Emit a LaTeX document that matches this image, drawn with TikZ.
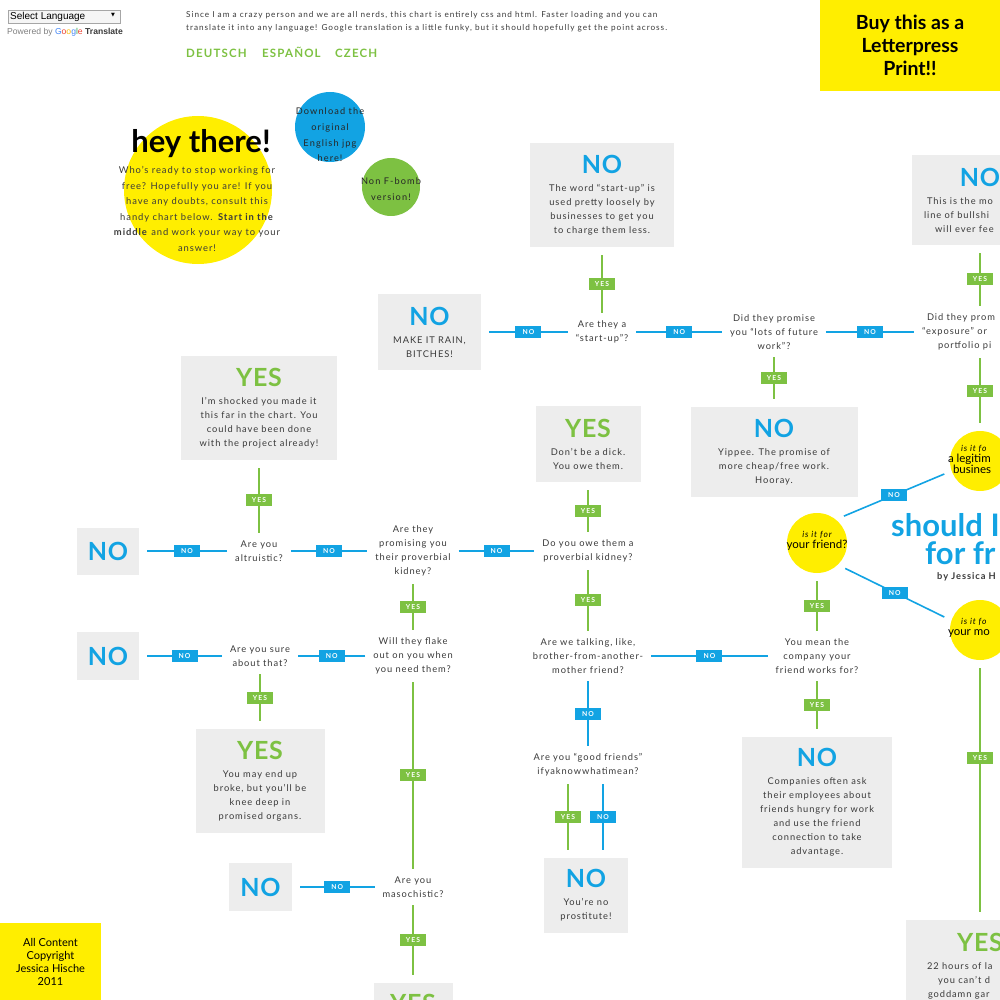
\documentclass[tikz,border=0pt]{standalone}
\usepackage{fontspec}
\setmainfont{Lato}
\newfontfamily\bodyf[LetterSpace=10]{Lato}
\newfontfamily\introf[LetterSpace=12]{Lato}
\newfontfamily\headf[LetterSpace=3]{Lato}
\newfontfamily\labf[LetterSpace=15]{Lato}
\newfontfamily\gfont{Liberation Sans}
\newfontfamily\symf{DejaVu Sans}
\definecolor{flowblue}{HTML}{12A3E3}
\definecolor{flowgreen}{HTML}{7DC142}
\definecolor{hiyellow}{HTML}{FFEE00}
\definecolor{boxgray}{HTML}{EDEDED}
\definecolor{inkgray}{HTML}{3A3A3A}
\definecolor{gblue}{HTML}{4285F4}
\definecolor{gred}{HTML}{EA4335}
\definecolor{gyellow}{HTML}{FBBC05}
\definecolor{ggreen}{HTML}{34A853}
\newcommand\nohead{{\headf\bfseries\fontsize{25}{25}\selectfont\color{flowblue}NO}}
\newcommand\yeshead{{\headf\bfseries\fontsize{25}{25}\selectfont\color{flowgreen}YES}}
% partial lines cut by the page edge
\newcommand\cut[2]{\makebox[#1pt][l]{#2}}

\begin{document}
\begin{tikzpicture}[x=1pt, y=-1pt,
    box/.style={fill=boxgray, align=center, inner sep=0pt, outer sep=8pt, text=inkgray,
                font=\bodyf\fontsize{9.3}{14}\selectfont},
    ques/.style={align=center, inner sep=1pt, outer sep=7pt, text=inkgray,
                 font=\bodyf\fontsize{9.3}{14}\selectfont},
    bubble/.style={circle, fill=hiyellow, inner sep=0pt, outer sep=8pt},
    bubtext/.style={align=center, inner sep=0pt, text=black},
    nolab/.style={fill=flowblue, text=white, font=\labf\bfseries\fontsize{6.8}{7}\selectfont,
                  minimum width=26pt, minimum height=12pt, inner sep=0pt},
    yeslab/.style={nolab, fill=flowgreen},
    noline/.style={flowblue, line width=1.6pt},
    yesline/.style={flowgreen, line width=1.6pt}]

\useasboundingbox (0,0) rectangle (1000,1000);
\clip (0,0) rectangle (1000,1000);

% header
\node[draw=gray!70, fill=gray!8, minimum width=112pt, minimum height=13pt, inner sep=0pt] (langbox) at (64,16.5) {};
\node[anchor=west, inner sep=0pt, font=\gfont\fontsize{10}{10}\selectfont] (langtext) at (10,17) {Select Language};
\node[inner sep=0pt, font=\symf\fontsize{5}{6}\selectfont] (langarrow) at (113,15.5) {▼};
\node[anchor=west, inner sep=0pt, font=\gfont\fontsize{8.6}{9}\selectfont] (powered) at (7,32.5)
  {\textcolor{gray}{Powered by} \textcolor{gblue}{G}\textcolor{gred}{o}\textcolor{gyellow}{o}\textcolor{gblue}{g}\textcolor{ggreen}{l}\textcolor{gred}{e} \textcolor{inkgray}{\bfseries Translate}};
\node[anchor=north west, align=left, inner sep=0pt, text=inkgray, font=\introf\fontsize{8.2}{13}\selectfont] (intro) at (186,11)
  {Since I am a crazy person and we are all nerds, this chart is entirely css and html. Faster loading and you can\\
   translate it into any language! Google translation is a little funky, but it should hopefully get the point across.};
\node[anchor=base west, inner sep=0pt, text=flowgreen, font=\bodyf\bfseries\fontsize{11.5}{12}\selectfont] (deutsch) at (186,57.5) {DEUTSCH};
\node[anchor=base west, inner sep=0pt, text=flowgreen, font=\bodyf\bfseries\fontsize{11.5}{12}\selectfont] (espanol) at (262,57.5) {ESPAÑOL};
\node[anchor=base west, inner sep=0pt, text=flowgreen, font=\bodyf\bfseries\fontsize{11.5}{12}\selectfont] (czech) at (335,57.5) {CZECH};
\node[fill=hiyellow, minimum width=180pt, minimum height=91pt, align=center, inner sep=0pt,
      font=\bfseries\fontsize{19.5}{23}\selectfont] (buybox) at (910,45.5) {Buy this as a\\Letterpress\\Print!!};

% hello bubbles
\node[bubble, minimum size=148pt] (hey) at (198,190) {};
\node[bubtext, font=\bfseries\fontsize{31}{31}\selectfont] (heytitle) at (201,144) {hey there!};
\node[bubtext, text=inkgray, font=\bodyf\fontsize{9.4}{15.5}\selectfont] (heybody) at (197,209)
  {Who’s ready to stop working for\\ free? Hopefully you are! If you\\ have any doubts, consult this\\
   handy chart below. \textbf{Start in the}\\ \textbf{middle} and work your way to your\\ answer!};
\node[circle, fill=flowblue, minimum size=70pt, inner sep=0pt] (jpg) at (330,127) {};
\node[bubtext, text=black!85, font=\introf\fontsize{9.2}{15.7}\selectfont] (jpgtext) at (330,135)
  {Download the\\ original\\ English jpg\\ here!};
\node[circle, fill=flowgreen, minimum size=58pt, inner sep=0pt] (fbomb) at (391,187) {};
\node[bubtext, text=black!85, font=\introf\fontsize{9.2}{16}\selectfont] (fbombtext) at (391,189)
  {Non F-bomb\\ version!};

% answers
\node[box, minimum width=144pt, minimum height=104pt] (startbox) at (602,195)
  {\nohead\\[4pt] The word “start-up” is\\ used pretty loosely by\\ businesses to get you\\ to charge them less.};
\node[box, minimum width=103pt, minimum height=76pt] (rainbox) at (429.5,332)
  {\nohead\\[4pt] MAKE IT RAIN,\\ BITCHES!};
\node[box, minimum width=136pt, minimum height=90pt] (bullbox) at (980,200)
  {\nohead\\[4pt] \cut{106}{This is the mo}\\ \cut{112}{line of bullshi}\\ \cut{90}{will ever fee}};
\node[box, minimum width=167pt, minimum height=90pt] (yippeebox) at (774,452)
  {\nohead\\[4pt] Yippee. The promise of\\ more cheap/free work.\\ Hooray.};
\node[box, minimum width=156pt, minimum height=104pt] (shockbox) at (259,408)
  {\yeshead\\[4pt] I’m shocked you made it\\ this far in the chart. You\\ could have been done\\ with the project already!};
\node[box, minimum width=105pt, minimum height=76pt] (dickbox) at (588,444)
  {\yeshead\\[4pt] Don’t be a dick.\\ You owe them.};
\node[box, minimum width=62pt, minimum height=47pt] (altrubox) at (108,551) {\nohead};
\node[box, minimum width=62pt, minimum height=48pt] (surebox) at (108,656) {\nohead};
\node[box, minimum width=129pt, minimum height=104pt] (organbox) at (260,781)
  {\yeshead\\[4pt] You may end up\\ broke, but you’ll be\\ knee deep in\\ promised organs.};
\node[box, minimum width=63pt, minimum height=48pt] (masobox) at (260.5,887) {\nohead};
\node[box, minimum width=84pt, minimum height=75pt] (prostbox) at (586,895.5)
  {\nohead\\[4pt] You’re no\\ prostitute!};
\node[box, minimum width=150pt, minimum height=131pt] (companybox) at (817,802.5)
  {\nohead\\[4pt] Companies often ask\\ their employees about\\ friends hungry for work\\ and use the friend\\ connection to take\\ advantage.};
\node[box, anchor=north, minimum width=148pt, minimum height=92pt] (momyes) at (980,912)
  {\yeshead\\[4pt] \cut{106}{22 hours of la}\\ \cut{84}{you can’t d}\\ \cut{104}{goddamn gar}};
\node[box, anchor=north, minimum width=79pt, minimum height=40pt] (masoyes) at (413,975) {\yeshead};

% questions
\node[ques] (startq) at (602,332) {Are they a\\ “start-up”?};
\node[ques] (futureq) at (774,332) {Did they promise\\ you “lots of future\\ work”?};
\node[ques] (exposq) at (980,332) {\cut{106}{Did they prom}\\ \cut{116}{“exposure” or}\\ \cut{84}{portfolio pi}};
\node[ques] (altruq) at (259,551) {Are you\\ altruistic?};
\node[ques] (kidneyq) at (413,551) {Are they\\ promising you\\ their proverbial\\ kidney?};
\node[ques] (oweq) at (588,551) {Do you owe them a\\ proverbial kidney?};
\node[ques] (sureq) at (260,656) {Are you sure\\ about that?};
\node[ques] (flakeq) at (413,656) {Will they flake\\ out on you when\\ you need them?};
\node[ques] (brotherq) at (588,656) {Are we talking, like,\\ brother-from-another-\\ mother friend?};
\node[ques] (companyq) at (817,656) {You mean the\\ company your\\ friend works for?};
\node[ques] (goodq) at (588,765) {Are you “good friends”\\ ifyaknowwhatimean?};
\node[ques] (masoq) at (413,887) {Are you\\ masochistic?};

% the middle
\node[bubble, minimum size=60pt] (legit) at (980,461) {};
\node[bubtext] (legittext) at (980,459)
  {{\itshape\bodyf\fontsize{8.5}{13}\selectfont\cut{38}{is it fo}}\\[-1pt]
   {\fontsize{11.5}{14}\selectfont\cut{64}{a legitim}}\\[-1pt]
   {\fontsize{11.5}{14}\selectfont\cut{54}{busines}}};
\node[bubble, minimum size=60pt] (friend) at (817,543) {};
\node[bubtext] (friendtext) at (817,541)
  {{\itshape\bodyf\fontsize{8.5}{13}\selectfont is it for}\\[-1pt]
   {\fontsize{11.5}{14}\selectfont your friend?}};
\node[bubble, minimum size=60pt] (mom) at (980,630) {};
\node[bubtext] (momtext) at (980,628)
  {{\itshape\bodyf\fontsize{8.5}{13}\selectfont\cut{38}{is it fo}}\\[-1pt]
   {\fontsize{11.5}{14}\selectfont\cut{64}{your mo}}};
\node[anchor=north west, align=left, inner sep=0pt, text=flowblue, font=\bfseries\fontsize{31}{28}\selectfont] (title) at (891,513)
  {should I\\ \hspace*{34pt}for fr};
\node[anchor=west, inner sep=0pt, text=inkgray, font=\bodyf\bfseries\fontsize{9.3}{10}\selectfont] (byline) at (937,577) {by Jessica H};

\node[fill=hiyellow, minimum width=101pt, minimum height=78pt, align=center, inner sep=0pt,
      font=\fontsize{11}{13.3}\selectfont] (copyright) at (50.5,962) {All Content\\ Copyright\\ Jessica Hische\\ 2011};

% connectors
\draw[noline] (startq) -- node[nolab]{NO} (rainbox);
\draw[noline] (startq) -- node[nolab]{NO} (futureq);
\draw[noline] (futureq) -- node[nolab]{NO} (exposq);
\draw[yesline] (startq) -- node[yeslab]{YES} (startbox);
\draw[yesline] (futureq) -- node[yeslab]{YES} (yippeebox);
\draw[yesline] (exposq) -- node[yeslab]{YES} (bullbox);
\draw[yesline] (exposq) -- node[yeslab]{YES} (legit);
\draw[noline] (legit.200) -- node[nolab]{NO} (friend.45);
\draw[noline] (friend.-42) -- node[nolab]{NO} (mom.160);
\draw[yesline] (mom) -- node[yeslab, pos=0.37]{YES} (momyes);
\draw[yesline] (friend) -- node[yeslab]{YES} (companyq);
\draw[yesline] (companyq) -- node[yeslab]{YES} (companybox);
\draw[noline] (companyq) -- node[nolab]{NO} (brotherq);
\draw[noline] (brotherq) -- node[nolab]{NO} (goodq);
\draw[yesline] ([xshift=-20pt]goodq.south) -- node[yeslab]{YES} ([xshift=-18pt]prostbox.north);
\draw[noline] ([xshift=15pt]goodq.south) -- node[nolab]{NO} ([xshift=17pt]prostbox.north);
\draw[yesline] (oweq) -- node[yeslab]{YES} (dickbox);
\draw[yesline] (oweq) -- node[yeslab]{YES} (brotherq);
\draw[noline] (kidneyq) -- node[nolab]{NO} (oweq);
\draw[noline] (altruq) -- node[nolab]{NO} (kidneyq);
\draw[noline] (altruq) -- node[nolab]{NO} (altrubox);
\draw[yesline] (altruq) -- node[yeslab]{YES} (shockbox);
\draw[yesline] (kidneyq) -- node[yeslab]{YES} (flakeq);
\draw[noline] (flakeq) -- node[nolab]{NO} (sureq);
\draw[noline] (sureq) -- node[nolab]{NO} (surebox);
\draw[yesline] (sureq) -- node[yeslab]{YES} (organbox);
\draw[yesline] (flakeq) -- node[yeslab]{YES} (masoq);
\draw[noline] (masoq) -- node[nolab]{NO} (masobox);
\draw[yesline] (masoq) -- node[yeslab]{YES} (masoyes);
\end{tikzpicture}
\end{document}
